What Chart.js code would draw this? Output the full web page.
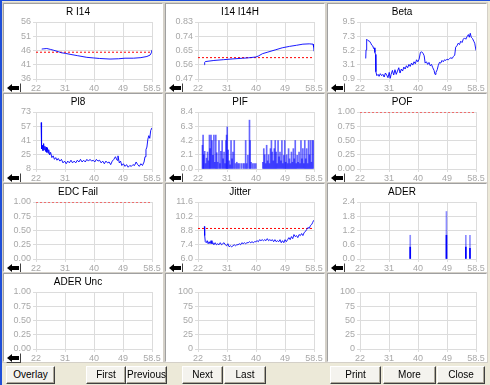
<!DOCTYPE html>
<html>
<head>
<meta charset="utf-8">
<script src="https://cdn.jsdelivr.net/npm/chart.js@4.4.0/dist/chart.umd.min.js"></script>
<style>
  html, body { margin: 0; padding: 0; }
  body { width: 490px; height: 385px; background: #ece9d8; position: relative; overflow: hidden;
         font-family: "Liberation Sans", Arial, sans-serif; }
  .edge-left { position: absolute; left: 0; top: 0; width: 2px; height: 385px; background: #1f4fd8; }
  .edge-top { position: absolute; left: 0; top: 0; width: 490px; height: 1px; background: #1f4fd8; }
  .panel { position: absolute; width: 158px; height: 87px; background: #fff;
           border: 1px solid; border-color: #a0a0a0 #ffffff #ffffff #a0a0a0; box-shadow: 0 0 0 1px #d4d0c8; }
  .panel canvas { position: absolute; left: 0; top: 0; }
  .back { position: absolute; left: 2px; top: 79px; width: 13px; height: 8px; background: #fff;
          border: 1px solid; border-color: #fff #404040 #404040 #fff; }
  .back svg { position: absolute; left: 0; top: 0; }
  .btn { position: absolute; top: 366px; height: 16px; background: #f4f3ee; font-size: 10px; line-height: 16px;
         text-align: center; color: #000; border: 1px solid; border-color: #fff #404040 #404040 #fff;
         box-shadow: inset -1px -1px 0 #aca899; }
</style>
</head>
<body>
<div class="edge-left"></div>
<div class="edge-top"></div>
<div id="grid"></div>
<div class="btn" style="left:6px;width:47px;">Overlay</div>
<div class="btn" style="left:86px;width:38px;">First</div>
<div class="btn" style="left:126px;width:39px;">Previous</div>
<div class="btn" style="left:182px;width:39px;">Next</div>
<div class="btn" style="left:224px;width:40px;">Last</div>
<div class="btn" style="left:330px;width:49px;">Print</div>
<div class="btn" style="left:383px;width:51px;">More</div>
<div class="btn" style="left:437px;width:46px;">Close</div>
<script>
const xLabels = ['22', '31', '40', '49', '58.5'];
const titles = ['R I14', 'I14 I14H', 'Beta', 'Pl8', 'PIF', 'POF', 'EDC Fail', 'Jitter', 'ADER', 'ADER Unc', '', ''];
const yLabels = [
    ['36', '41', '46', '51', '56'],
    ['0.47', '0.56', '0.65', '0.74', '0.83'],
    ['0.9', '3.1', '5.2', '7.3', '9.5'],
    ['8', '25', '41', '57', '73'],
    ['0.0', '2.1', '4.2', '6.3', '8.4'],
    ['0.00', '0.25', '0.50', '0.75', '1.00'],
    ['0.00', '0.25', '0.50', '0.75', '1.00'],
    ['6.0', '7.4', '8.8', '10.2', '11.6'],
    ['0.0', '0.6', '1.2', '1.8', '2.4'],
    ['0.00', '0.25', '0.50', '0.75', '1.00'],
    ['0', '25', '50', '75', '100'],
    ['0', '25', '50', '75', '100']
];
const yRanges = [[36, 56], [0.47, 0.83], [0.9, 9.5], [8, 73], [0, 8.4], [0, 1], [0, 1], [6, 11.6], [0, 2.4], [0, 1], [0, 100], [0, 100]];
const limits = [45.4, 0.605, null, null, null, 1.0, 1.0, 9.0, null, null, null, null];

const rX = [23.8, 24.5, 25.4, 26.5, 27.5, 29, 30, 31.2, 33, 35, 38, 40, 42, 45.3, 48, 50, 52.7, 55, 56.9, 57.9, 58.3, 58.5];
const rY = [46.5, 46.6, 46.7, 46.4, 46.1, 45.6, 45.2, 45.0, 44.6, 44.2, 43.6, 43.4, 43.2, 43.0, 43.1, 43.3, 43.3, 43.5, 43.9, 44.4, 45.2, 46.2];

const hX = [24.0, 24.1, 24.3, 27, 30, 33, 36, 38, 40.2, 41, 42.3, 44, 46.5, 48.5, 50.8, 53, 55, 57, 58.2, 58.4, 58.5];
const hY = [0.56, 0.575, 0.58, 0.587, 0.592, 0.597, 0.601, 0.604, 0.609, 0.615, 0.63, 0.64, 0.655, 0.667, 0.676, 0.683, 0.69, 0.692, 0.69, 0.67, 0.645];

const betaX = [23.8, 23.9, 24.1, 24.5, 25.0, 25.4, 25.7, 26.0, 26.3, 26.5,
               26.7, 26.9, 27.0, 27.3, 27.7, 28.0, 28.4, 28.8, 29.2, 29.6,
               30.0, 30.4, 30.8, 31.2, 31.5, 31.8, 32.2, 32.6, 33.0, 33.4,
               33.8, 34.2, 34.6, 35.0, 35.4, 35.8, 36.2, 36.6, 37.0, 37.4,
               37.8, 38.2, 38.6, 39.0, 39.4, 39.8, 40.2, 40.6, 41.0, 41.4,
               41.8, 42.2, 42.5, 42.9, 43.3, 43.7, 44.1, 44.5, 44.9, 45.3,
               45.6, 45.9, 46.3, 46.6, 47.0, 47.4, 47.8, 48.2, 48.6, 49.0,
               49.4, 49.8, 50.2, 50.6, 51.0, 51.4, 51.8, 52.1, 52.5, 52.9,
               53.3, 53.7, 54.1, 54.5, 54.9, 55.3, 55.7, 56.1, 56.4, 56.7,
               57.0, 57.4, 57.8, 58.1, 58.5];
const betaY = [4.0, 5.3, 6.9, 6.7, 6.6, 6.3, 6.0, 5.9, 5.5, 5.6,
               4.9, 4.6, 2.0, 1.4, 1.6, 1.3, 1.7, 1.4, 1.6, 1.2,
               1.8, 1.5, 1.1, 1.9, 1.0, 1.6, 2.2, 1.5, 2.3, 1.6,
               2.1, 2.6, 1.8, 2.4, 2.1, 2.7, 2.4, 2.9, 2.6, 3.1,
               2.8, 3.3, 3.0, 3.5, 3.2, 3.8, 3.5, 3.9, 4.9, 5.0,
               4.8, 4.4, 3.3, 3.5, 3.1, 3.4, 2.9, 3.1, 2.6, 2.2,
               1.6, 1.9, 2.3, 2.9, 3.4, 3.3, 3.7, 3.5, 3.8, 3.7,
               3.9, 3.8, 4.0, 4.1, 4.0, 4.3, 4.5, 5.7, 5.9, 6.3,
               6.1, 6.6, 6.4, 6.9, 7.1, 6.9, 7.3, 7.6, 7.2, 7.8,
               7.2, 7.0, 6.6, 6.3, 5.2];

const pl8X = [23.6, 23.7, 23.8, 24.0, 24.2, 24.4, 24.6, 24.8, 25.0, 25.2,
              25.4, 25.6, 25.8, 26.0, 26.3, 26.6, 27.0, 27.4, 27.8, 28.2,
              28.6, 29.0, 29.5, 30.0, 30.5, 31.0, 31.5, 32.0, 32.5, 33.0,
              33.5, 34.0, 34.5, 35.0, 35.5, 36.0, 36.5, 37.0, 37.5, 38.0,
              38.5, 39.0, 39.5, 40.0, 40.5, 41.0, 41.5, 42.0, 42.5, 43.0,
              43.5, 44.0, 44.5, 45.0, 45.5, 46.0, 46.5, 47.0, 47.5, 47.8,
              48.2, 48.6, 49.0, 49.5, 50.0, 50.5, 51.0, 51.5, 52.0, 52.5,
              53.0, 53.5, 54.0, 54.5, 55.0, 55.5, 56.0, 56.3, 56.6, 56.9,
              57.2, 57.5, 57.8, 58.1, 58.5];
const pl8Y = [61, 45, 31, 35, 29, 37, 30, 34, 28, 33,
              27, 32, 26, 30, 24, 27, 21, 23, 19, 21,
              18, 20, 17, 19, 15, 17, 14, 17, 15, 18,
              15, 17, 15, 18, 16, 19, 16, 18, 16, 19,
              17, 19, 17, 18, 16, 19, 17, 18, 15, 17,
              14, 17, 15, 16, 13, 17, 19, 22, 18, 23,
              15, 17, 12, 14, 11, 13, 10, 12, 11, 13,
              12, 16, 13, 11, 14, 12, 16, 22, 30, 33,
              42, 46, 43, 52, 55];

const pifX = [23.4, 23.6, 23.8, 24.1, 24.4, 24.7, 25.0, 25.3, 25.6, 25.8,
              26.1, 26.4, 26.7, 27.0, 27.3, 27.6, 27.9, 28.2, 28.6, 28.9,
              29.2, 29.6, 29.9, 30.2, 30.5, 30.8, 31.0, 31.2, 31.5, 31.8,
              32.1, 32.4, 32.7, 33.0, 33.4, 33.8, 34.2, 34.6, 35.0, 35.6,
              36.2, 36.6, 37.0, 37.3, 37.7, 38.2, 38.4, 38.7, 39.2, 39.7,
              40.2, 42.4, 42.7, 43.0, 43.3, 43.6, 43.9, 44.2, 44.5, 44.8,
              45.1, 45.4, 45.7, 46.0, 46.3, 46.6, 46.9, 47.2, 47.5, 47.8,
              48.1, 48.4, 48.7, 49.0, 49.3, 49.6, 49.9, 50.2, 50.5, 50.8,
              51.1, 51.4, 51.7, 52.0, 52.3, 52.6, 52.9, 53.2, 53.5, 53.8,
              54.1, 54.4, 54.7, 55.0, 55.3, 55.6, 55.9, 56.2, 56.5, 56.8,
              57.1, 57.4, 57.7, 58.0, 58.3];
const pifY = [3.5, 5.0, 2.1, 2.6, 0.8, 1.6, 2.5, 1.2, 5.0, 3.0,
              5.0, 4.2, 2.0, 5.0, 1.0, 5.0, 2.4, 1.0, 4.2, 0.8,
              2.6, 4.2, 1.5, 2.5, 0.8, 4.2, 5.0, 6.2, 2.8, 1.2,
              0.6, 4.2, 1.5, 2.5, 4.2, 0.8, 1.0, 0.8, 0.8, 0.8,
              0.8, 0.8, 4.2, 0.8, 2.0, 7.2, 4.2, 1.0, 0.8, 0.8,
              0.8, 1.0, 3.0, 2.1, 0.8, 3.5, 1.2, 2.1, 0.8, 3.0,
              4.2, 2.5, 1.2, 3.0, 4.2, 2.5, 0.8, 4.2, 1.8, 2.5,
              1.2, 4.2, 0.8, 2.0, 4.2, 1.0, 2.1, 0.8, 3.0, 1.5,
              0.8, 2.5, 1.0, 3.0, 1.5, 4.2, 0.8, 2.0, 1.0, 2.5,
              0.8, 4.2, 1.5, 3.0, 0.8, 4.2, 1.5, 3.0, 0.8, 4.2,
              2.1, 4.2, 1.0, 4.2, 4.2];

const jitX = [24.0, 24.1, 24.3, 24.6, 24.9, 25.2, 25.5, 25.8, 26.1, 26.4,
              26.7, 27.0, 27.4, 27.8, 28.2, 28.6, 29.0, 29.4, 29.8, 30.2,
              30.6, 31.0, 31.4, 31.8, 32.2, 32.6, 33.0, 33.4, 33.8, 34.2,
              34.6, 35.0, 35.4, 35.8, 36.2, 36.6, 37.0, 37.4, 37.8, 38.2,
              38.6, 39.0, 39.4, 39.8, 40.2, 40.6, 41.0, 41.4, 41.8, 42.2,
              42.6, 43.0, 43.4, 43.8, 44.2, 44.6, 45.0, 45.4, 45.8, 46.2,
              46.6, 47.0, 47.4, 47.8, 48.2, 48.6, 49.0, 49.4, 49.8, 50.2,
              50.6, 51.0, 51.4, 51.8, 52.2, 52.6, 53.0, 53.4, 53.8, 54.2,
              54.6, 55.0, 55.4, 55.8, 56.2, 56.6, 57.0, 57.4, 57.8, 58.1,
              58.4];
const jitY = [9.2, 8.3, 7.7, 7.6, 7.8, 7.5, 7.7, 7.5, 7.8, 7.5,
              7.6, 7.4, 7.6, 7.4, 7.5, 7.4, 7.6, 7.4, 7.5, 7.6,
              7.4, 7.3, 7.5, 7.2, 7.3, 7.2, 7.3, 7.4, 7.3, 7.4,
              7.4, 7.5, 7.4, 7.6, 7.5, 7.6, 7.5, 7.6, 7.6, 7.7,
              7.6, 7.7, 7.6, 7.7, 7.7, 7.8, 7.7, 7.9, 7.8, 7.9,
              7.8, 7.9, 7.8, 8.0, 7.8, 7.9, 7.8, 7.9, 7.7, 7.9,
              7.7, 7.8, 7.7, 7.9, 7.6, 7.8, 7.6, 7.9, 7.7, 7.9,
              8.1, 7.9, 8.2, 8.0, 8.4, 8.2, 8.3, 8.1, 8.4, 8.3,
              8.5, 8.3, 8.6, 8.7, 8.9, 9.1, 9.0, 9.3, 9.4, 9.6,
              9.8];

const aderX = [37.8, 49.2, 55.3, 56.6];
const aderY = [1.0, 2.0, 1.0, 1.0];
const aderCore = [0.5, 1.0, 0.5, 0.45];

const blue = '#0000ff';
const red = '#ff0000';

function pts(xs, ys) {
    return xs.map((x, i) => ({ x: x, y: ys[i] }));
}

function lineSet(xs, ys) {
    return { type: 'line', data: pts(xs, ys), borderColor: 'rgba(0,0,255,0.9)', borderWidth: 1, pointRadius: 0, tension: 0 };
}

function barSet(xs, ys, color) {
    return { type: 'bar', data: pts(xs, ys), backgroundColor: color, barThickness: 1, grouped: false };
}

function limitSet(v) {
    return { type: 'line', data: [{ x: 22, y: v }, { x: 58.5, y: v }], borderColor: red, borderWidth: 1,
             borderDash: [2, 2], pointRadius: 0 };
}

function evenTicks(min, max) {
    return function (scale) {
        scale.ticks = [0, 1, 2, 3, 4].map(i => ({ value: min + i * (max - min) / 4 }));
    };
}

document.addEventListener("DOMContentLoaded", function () {
    const series = [
        [lineSet(rX, rY)],
        [lineSet(hX, hY)],
        [lineSet(betaX, betaY)],
        [lineSet(pl8X, pl8Y)],
        [barSet(pifX, pifY, 'rgba(0,0,255,0.6)')],
        [],
        [],
        [lineSet(jitX, jitY)],
        [barSet(aderX, aderY, 'rgba(0,0,255,0.45)'), barSet(aderX, aderCore, blue)],
        [],
        [],
        []
    ];
    const lefts = [3, 165, 327];
    const grid = document.getElementById('grid');

    titles.forEach((title, i) => {
        const panel = document.createElement('div');
        panel.className = 'panel';
        panel.style.left = lefts[i % 3] + 'px';
        panel.style.top = (3 + Math.floor(i / 3) * 90) + 'px';
        const canvas = document.createElement('canvas');
        canvas.width = 158;
        canvas.height = 87;
        panel.appendChild(canvas);
        if (i < 10) {
            const back = document.createElement('div');
            back.className = 'back';
            back.innerHTML = '<svg width="13" height="8"><rect x="4" y="2" width="8" height="4" fill="#000"/>' +
                '<polygon points="0,4 5,0 5,8" fill="#000"/></svg>';
            panel.appendChild(back);
        }
        grid.appendChild(panel);

        const datasets = series[i].slice();
        if (limits[i] !== null) datasets.push(limitSet(limits[i]));
        const [ymin, ymax] = yRanges[i];

        new Chart(canvas.getContext('2d'), {
            type: 'line',
            data: { datasets: datasets },
            options: {
                responsive: false,
                animation: false,
                devicePixelRatio: 1,
                layout: { padding: { left: 0, right: 10, top: 0, bottom: 0 } },
                plugins: {
                    legend: { display: false },
                    tooltip: { enabled: false },
                    title: {
                        display: true,
                        text: title,
                        color: '#000',
                        font: { family: 'Liberation Sans', size: 10, weight: 'normal' },
                        padding: { top: 2, bottom: 4 }
                    }
                },
                scales: {
                    x: {
                        type: 'linear',
                        min: 22,
                        max: 58.5,
                        offset: false,
                        afterBuildTicks: evenTicks(22, 58.5),
                        afterFit: s => { s.height = 12; },
                        grid: { color: '#dcdcdc', tickLength: 3, offset: false },
                        border: { color: '#dcdcdc' },
                        ticks: {
                            color: '#a8a8a8',
                            padding: 1,
                            maxRotation: 0,
                            autoSkip: false,
                            font: { family: 'Liberation Sans', size: 9 },
                            callback: (v, idx) => xLabels[idx]
                        }
                    },
                    y: {
                        type: 'linear',
                        min: ymin,
                        max: ymax,
                        afterBuildTicks: evenTicks(ymin, ymax),
                        afterFit: s => { s.width = 32; },
                        grid: { color: '#dcdcdc', tickLength: 3 },
                        border: { color: '#dcdcdc' },
                        ticks: {
                            color: '#a8a8a8',
                            padding: 2,
                            autoSkip: false,
                            font: { family: 'Liberation Sans', size: 9 },
                            callback: (v, idx) => yLabels[i][idx]
                        }
                    }
                }
            }
        });
    });
});
</script>
</body>
</html>
